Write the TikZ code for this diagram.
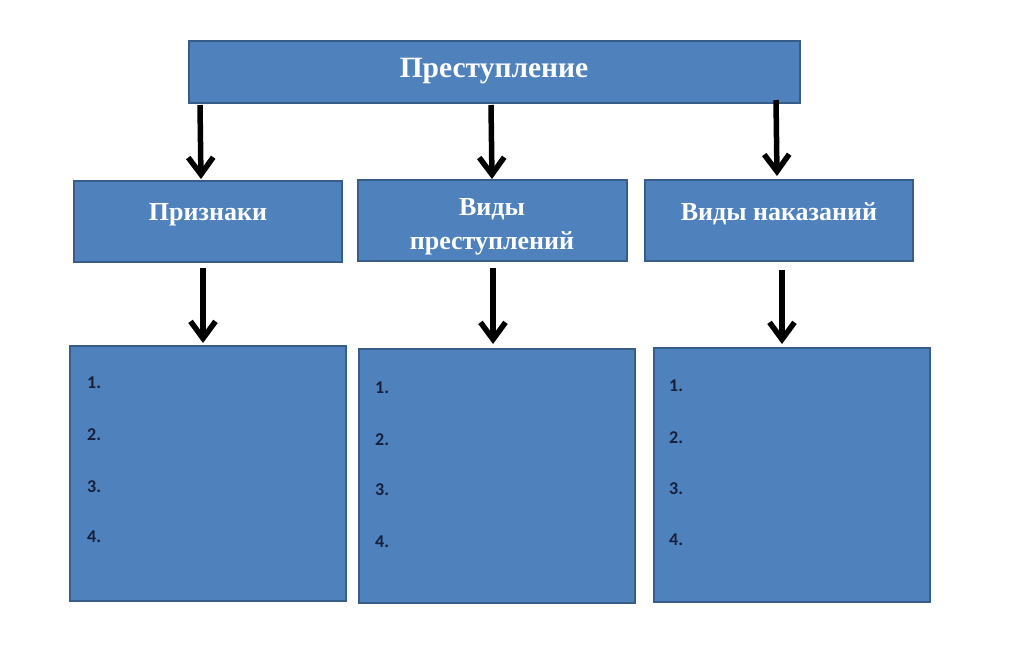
\documentclass[tikz,border=0pt]{standalone}
\usepackage{fontspec}
\setmainfont{Liberation Serif}
\newfontfamily\numfont{Carlito}
\usetikzlibrary{arrows.meta}
\definecolor{boxfill}{RGB}{79,129,189}
\definecolor{boxline}{RGB}{56,93,138}
\definecolor{numcol}{RGB}{22,32,58}
\tikzset{
  box/.style={draw=boxline, line width=1.5pt, fill=boxfill},
  ttl/.style={text=white, font=\fontsize{29.5}{34}\selectfont\bfseries, inner sep=0pt},
  sub/.style={text=white, font=\fontsize{26}{34}\selectfont\bfseries, inner sep=0pt, align=center},
  num/.style={text=numcol, font=\numfont\fontsize{18}{20}\selectfont\bfseries, inner sep=0pt, anchor=west},
  arr/.style={line width=5.5pt, -{Straight Barb[length=17pt, width=25pt, line width=5.5pt]}, black}
}
\begin{document}
\begin{tikzpicture}[x=1pt, y=-1pt]
\useasboundingbox[fill=white] (0,0) rectangle (1009,649);
% top
\draw[box] (189,41) rectangle (800,103);
\node[ttl] (top) at (494,71) {Преступление};
% middle boxes
\draw[box] (74,181) rectangle (342,262);
\node[sub] (m1) at (208,215) {Признаки};
\draw[box] (358,180) rectangle (627,261);
\node[sub] (m2) at (492,227) {Виды\\преступлений};
\draw[box] (645,180) rectangle (913,261);
\node[sub] (m3) at (779,214) {Виды наказаний};
% bottom boxes
\draw[box] (70,346) rectangle (346,601);
\draw[box] (359,349) rectangle (635,603);
\draw[box] (654,348) rectangle (930,602);
\foreach \t/\y in {1/383,2/435,3/487,4/537}{\node[num] (a\t) at (87,\y) {\t.};}
\foreach \t/\y in {1/388,2/440,3/490,4/542}{\node[num] (b\t) at (375,\y) {\t.};}
\foreach \t/\y in {1/386,2/438,3/489,4/540}{\node[num] (c\t) at (669,\y) {\t.};}
% arrows
\coordinate (s1) at (200,105); \coordinate (e1) at (201,179);
\coordinate (s2) at (491,105); \coordinate (e2) at (492,179);
\coordinate (s3) at (776,100); \coordinate (e3) at (777,176);
\coordinate (s4) at (203,268); \coordinate (e4) at (203,343);
\coordinate (s5) at (493,268); \coordinate (e5) at (493,344);
\coordinate (s6) at (782,270); \coordinate (e6) at (782,344);
\foreach \i in {1,...,6}{\draw[arr] (s\i) -- (e\i);}
\end{tikzpicture}
\end{document}
